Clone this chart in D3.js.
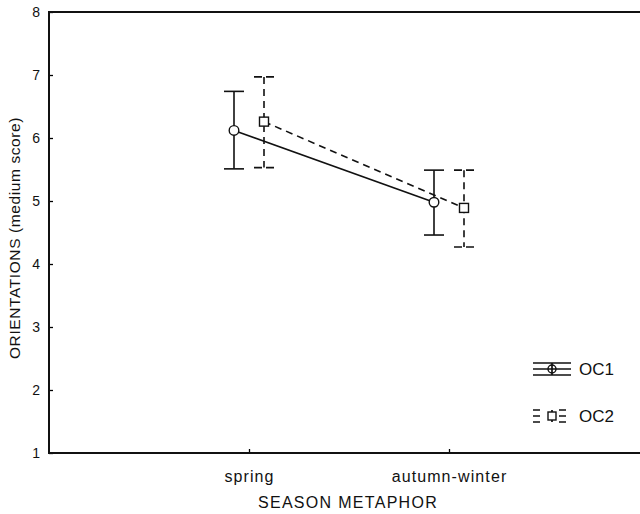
<!DOCTYPE html>
<html>
<head>
<meta charset="utf-8">
<script src="https://cdn.jsdelivr.net/npm/d3@7"></script>
<style>
  body { margin: 0; background: #fff; }
  svg { display: block; font-family: "Liberation Sans", Arial, sans-serif; }
</style>
</head>
<body>
<div id="chart"></div>
<script>
// categories and group values
var seasons = ["spring", "autumn-winter"];
var seriesNames = ["OC1", "OC2"];
var oc1Mean = [6.12, 4.98];
var oc1Low = [5.51, 4.46];
var oc1High = [6.74, 5.49];
var oc2Mean = [6.26, 4.89];
var oc2Low = [5.53, 4.27];
var oc2High = [6.97, 5.49];
var yTicks = [1, 2, 3, 4, 5, 6, 7, 8];

var width = 640,
    height = 514;

var svg = d3.select("#chart").append("svg")
    .attr("width", width)
    .attr("height", height);

// right edge of the frame falls outside the picture
var x = d3.scaleLinear().domain([0, 3]).range([49, 649]);
var y = d3.scaleLinear().domain([1, 8]).range([453, 12]);
var offset = 15; // groups sit either side of the category

var series = [
  {name: seriesNames[0], mean: oc1Mean, low: oc1Low, high: oc1High, dx: -offset, dash: null, shape: "circle"},
  {name: seriesNames[1], mean: oc2Mean, low: oc2Low, high: oc2High, dx: offset, dash: "7,5", shape: "square"}
];

// y axis, ticks pointing inward
var yAxis = d3.axisLeft(y).tickValues(yTicks).tickSize(-4).tickPadding(9).tickFormat(d3.format("d"));
var gy = svg.append("g").attr("transform", "translate(49,0)").call(yAxis);
gy.select(".domain").remove();
gy.selectAll("line").attr("stroke", "#000").attr("stroke-width", 1.3);
gy.selectAll("text").style("font-size", "14px").attr("fill", "#111");

var xAxis = d3.axisBottom(x).tickValues([1, 2]).tickSize(-4).tickPadding(18)
    .tickFormat(function(d) { return seasons[d - 1]; });
var gx = svg.append("g").attr("transform", "translate(0,453)").call(xAxis);
gx.select(".domain").remove();
gx.selectAll("line").attr("stroke", "#000").attr("stroke-width", 1.3);
gx.selectAll("text").style("font-size", "16px").style("letter-spacing", "1.1px").attr("fill", "#111");

// frame: left, top, bottom
svg.append("path")
    .attr("d", "M" + x(3) + "," + y(8) + "H" + x(0) + "V" + y(1) + "H" + x(3))
    .attr("fill", "none")
    .attr("stroke", "#111")
    .attr("stroke-width", 2);

// axis titles
svg.append("text")
    .attr("transform", "translate(20,238)rotate(-90)")
    .attr("text-anchor", "middle")
    .style("font-size", "15.5px")
    .style("letter-spacing", "0.6px")
    .attr("fill", "#111")
    .text("ORIENTATIONS (medium score)");

svg.append("text")
    .attr("x", 348)
    .attr("y", 508)
    .attr("text-anchor", "middle")
    .style("font-size", "16px")
    .style("letter-spacing", "1.3px")
    .attr("fill", "#111")
    .text("SEASON METAPHOR");

function drawMarker(g, shape, cx, cy) {
  if (shape === "circle") {
    g.append("circle").attr("cx", cx).attr("cy", cy).attr("r", 4.8)
      .attr("fill", "#fff").attr("stroke", "#111").attr("stroke-width", 1.4);
  } else {
    g.append("rect").attr("x", cx - 4.5).attr("y", cy - 4.5).attr("width", 9).attr("height", 9)
      .attr("fill", "#fff").attr("stroke", "#111").attr("stroke-width", 1.4);
  }
}

series.forEach(function(s) {
  var g = svg.append("g");
  var px = function(i) { return x(i + 1) + s.dx; };

  // connecting line
  g.append("path")
    .datum(s.mean)
    .attr("d", d3.line().x(function(d, i) { return px(i); }).y(function(d) { return y(d); }))
    .attr("fill", "none")
    .attr("stroke", "#111")
    .attr("stroke-width", 1.6)
    .attr("stroke-dasharray", s.dash);

  // error bars
  s.mean.forEach(function(m, i) {
    var cx = px(i);
    g.append("line")
      .attr("x1", cx).attr("x2", cx)
      .attr("y1", y(s.high[i])).attr("y2", y(s.low[i]))
      .attr("stroke", "#111").attr("stroke-width", 1.6)
      .attr("stroke-dasharray", s.dash);
    [s.high[i], s.low[i]].forEach(function(v) {
      g.append("line")
        .attr("x1", cx - 10).attr("x2", cx + 10)
        .attr("y1", y(v)).attr("y2", y(v))
        .attr("stroke", "#111").attr("stroke-width", 1.6)
        .attr("stroke-dasharray", s.dash ? "8,4" : null);
    });
    drawMarker(g, s.shape, cx, y(m));
  });
});

// legend
var legend = svg.append("g");
series.forEach(function(s, i) {
  var cx = 552, cy = 369 + i * 47;
  var lg = legend.append("g");
  [-6, 0, 6].forEach(function(dy) {
    lg.append("line")
      .attr("x1", cx - 19).attr("x2", cx + 19)
      .attr("y1", cy + dy).attr("y2", cy + dy)
      .attr("stroke", "#111").attr("stroke-width", 1.7)
      .attr("stroke-dasharray", s.dash ? "7,5,0,14" : null);
  });
  lg.append("line")
    .attr("x1", cx).attr("x2", cx)
    .attr("y1", cy - 6).attr("y2", cy + 6)
    .attr("stroke", "#111").attr("stroke-width", 1.7);
  if (s.shape === "circle") {
    lg.append("circle").attr("cx", cx).attr("cy", cy).attr("r", 4)
      .attr("fill", "none").attr("stroke", "#111").attr("stroke-width", 1.4);
  } else {
    lg.append("rect").attr("x", cx - 4).attr("y", cy - 4).attr("width", 8).attr("height", 8)
      .attr("fill", "#fff").attr("stroke", "#111").attr("stroke-width", 1.4);
  }
  lg.append("text")
    .attr("x", 579)
    .attr("y", cy + 6)
    .style("font-size", "17px")
    .attr("fill", "#111")
    .text(s.name);
});
</script>
</body>
</html>
